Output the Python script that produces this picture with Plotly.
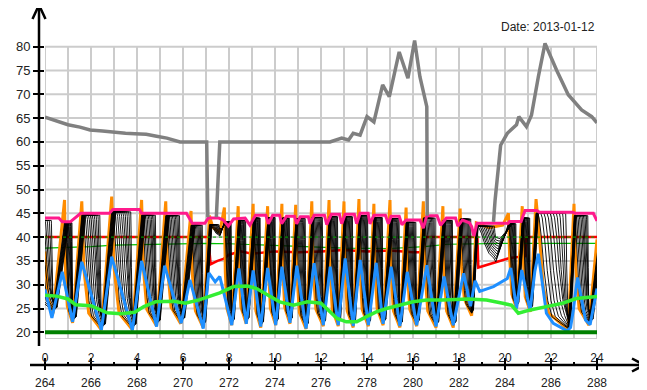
import plotly.graph_objects as go

# ---------------- data ----------------
hour_ticks = [0, 2, 4, 6, 8, 10, 12, 14, 16, 18, 20, 22, 24]
hour_labels = ["0", "2", "4", "6", "8", "10", "12", "14", "16", "18", "20", "22", "24"]
abs_hour_labels = ["264", "266", "268", "270", "272", "274", "276", "278", "280",
                   "282", "284", "286", "288"]
minor_hours = [1, 3, 5, 7, 9, 11, 13, 15, 17, 19, 21, 23]
grid_hours = list(range(0, 25))
y_ticks = [20, 25, 30, 35, 40, 45, 50, 55, 60, 65, 70, 75, 80]
date_text = "Date: 2013-01-12"

# None = hidden behind other lines in the picture
grey_t = [0, 0.36, 1.0, 1.52, 1.96, 2.5, 3.0, 3.5, 3.9, 4.4, 4.85, 5.3, 5.87, 7.03, 7.08,
          None, 7.45, 7.6, 12.39, 12.7, 12.9, 13.2, 13.4, 13.7, 14.0, 14.3, 14.68, 14.97, 15.4,
          15.78, 16.07, 16.3, 16.6, 16.62, None, 19.5, 19.57, 19.81, 20.1, 20.5, 20.6, 20.93,
          21.15, 21.45, 21.74, 22.24, 22.75, 23.33, 23.77, 24.0]
grey_v = [65.2, 64.6, 63.6, 63.1, 62.5, 62.3, 62.0, 61.8, 61.7, 61.6, 61.2, 60.8, 60.0, 60.0, 44.2,
          None, 44.2, 60.0, 60.0, 60.4, 60.8, 60.4, 61.8, 61.4, 65.3, 64.2, 72.0, 69.5, 78.9,
          73.4, 81.3, 73.7, 67.4, 44.5, None, 43.2, 47.8, 59.3, 61.8, 63.6, 65.3, 63.2,
          65.6, 73.7, 80.7, 75.1, 69.9, 66.7, 65.3, 64.0]

pink_t = [0, 0.6, 0.75, 1.1, 1.55, 2.8, 2.95, 4.1, 4.2, 6.15, 6.4, 6.95, 7.1, 7.55, 7.75, 7.97,
          8.2, 8.7, 8.91, 9.15, 9.6, 9.71, 9.9, 10.2, 10.29, 10.5, 10.85, 10.94, 11.1, 11.45,
          11.52, 11.7, 12.15, 12.25, 12.45, 12.8, 12.9, 13.05, 13.45, 13.55, 13.7, 14.05,
          14.13, 14.3, 14.8, 14.93, 15.05, 15.4, 15.52, 15.7, 16.3, 16.45, 16.6, 17.05, 17.2,
          17.45, 17.85, 17.95, 18.15, 18.45, 18.55, 18.65, 18.78, 20.14, 20.2, 20.7, 20.87,
          21.38, 21.5, 22.95, 23.05, 23.84, 24.0]
pink_v = [44.0, 44.0, 43.2, 43.2, 45.0, 45.0, 45.8, 45.8, 45.0, 45.0, 42.9, 42.9, 44.0, 44.0, 43.6, 42.3,
          43.8, 44.0, 42.5, 44.6, 44.6, 42.8, 44.6, 44.6, 42.8, 44.4, 44.4, 42.8, 44.3, 44.3,
          42.8, 44.6, 44.6, 42.6, 44.8, 44.8, 42.8, 44.8, 44.8, 42.8, 45.0, 45.0,
          42.8, 44.6, 44.6, 42.8, 44.4, 44.4, 42.6, 43.6, 43.6, 41.9, 44.5, 44.5, 42.5,
          44.0, 44.0, 42.3, 43.6, 43.0, 42.2, 40.2, 42.9, 42.9, 43.3, 43.3, 45.6,
          45.6, 45.2, 45.2, 45.0, 45.0, 43.4]

red_t = [0, 7.1, 7.2, 7.5, 7.75, 8.0, 8.5, 9.0, 10.0, 11.0, 12.0, 13.0, 14.0, 15.0, 16.0,
         16.4, 16.5, 18.8, 18.84, 20.2, 20.88, 20.92, 24.0]
red_v = [40.0, 40.0, 34.3, 35.0, 35.4, 36.3, 37.0, 36.5, 37.0, 36.8, 37.0, 37.3, 37.0, 37.2, 36.8,
         36.8, 40.0, 40.0, 33.6, 35.6, 36.0, 40.0, 40.0]

thin_green_t = [0, 1, 2, 3, 5, 7, 8, 10, 12, 13, 15, 16.5, 17.5, 20, 24]
thin_green_v = [37.7, 37.8, 38.0, 38.3, 38.5, 38.7, 38.6, 38.3, 38.0, 37.7, 37.6, 38.0, 38.5, 38.7, 38.7]

lime_t = [0, 0.5, 1.0, 1.33, 2.0, 2.7, 3.3, 3.9, 4.3, 4.8, 5.6, 6.1, 6.7, 7.3, 7.6, 8.2, 8.8,
          9.2, 9.6, 10.2, 10.8, 11.4, 12.0, 12.25, 12.7, 13.1, 13.55, 13.98, 14.4, 14.85,
          15.4, 16.0, 16.6, 17.3, 18.4, 19.2, 19.9, 20.28, 20.58, 21.1, 21.8, 22.5, 23.1, 24.0]
lime_v = [27.8, 27.6, 27.0, 25.8, 25.6, 24.1, 23.9, 24.2, 25.4, 26.4, 26.5, 26.1, 26.8, 27.8, 28.3, 29.6, 29.7,
          29.2, 28.1, 26.4, 25.7, 26.4, 26.1, 25.0, 22.9, 22.2, 22.2, 23.3, 24.3, 25.0,
          25.7, 26.4, 26.8, 26.8, 27.0, 26.8, 26.1, 25.7, 24.0, 24.7, 25.4, 26.1, 27.1, 27.5]

orange_t = [0, 0.12, 0.35,
            0.85, 0.89, 0.97, 1.2,
            1.6, 1.70, 1.90, 2.45,
            2.9, 3.01, 3.22, 3.8,
            4.2, 4.28, 4.43, 4.85,
            5.25, 5.33, 5.48, 5.9,
            6.35, 6.41, 6.54, 6.88,
            7.15, 7.3, 7.45, 7.6,
            7.8, 7.84, 7.91, 8.12,
            8.4, 8.44, 8.52, 8.75,
            9.05, 9.09, 9.17, 9.38,
            9.68, 9.72, 9.80, 10.03,
            10.3, 10.34, 10.42, 10.65,
            10.9, 10.95, 11.06, 11.35,
            11.6, 11.66, 11.78, 12.1,
            12.35, 12.4, 12.49, 12.75,
            13.0, 13.05, 13.14, 13.4,
            13.65, 13.7, 13.79, 14.06,
            14.3, 14.35, 14.44, 14.7,
            15.0, 15.05, 15.15, 15.43,
            15.7, 15.76, 15.86, 16.16,
            16.45, 16.52, 16.64, 17.0,
            17.3, 17.35, 17.46, 17.75,
            18.05, 18.11, 18.23, 18.55,
            18.75, 19.3, 19.9,
            20.15, 20.2, 20.3, 20.5,
            20.75, 20.8, 20.88, 21.1,
            21.35, 21.5, 21.65, 21.9, 22.75,
            23.0, 23.08, 23.22, 23.65,
            24.0]
orange_v = [37.0, 27.5, 24.0,
            47.8, 32.7, 25.5, 22.0,
            47.5, 32.8, 24.0, 20.5,
            48.5, 33.2, 24.0, 20.5,
            47.8, 33.2, 24.8, 21.3,
            47.5, 33.4, 25.3, 21.8,
            45.5, 32.0, 24.5, 21.0,
            44.5, 42.0, 41.5, 41.0,
            46.2, 32.6, 25.0, 21.5,
            46.5, 32.9, 25.3, 21.8,
            47.0, 32.8, 24.5, 21.0,
            46.5, 33.0, 25.0, 21.5,
            47.0, 33.2, 25.3, 21.8,
            46.8, 32.5, 24.2, 20.7,
            47.5, 33.0, 24.8, 21.3,
            47.8, 33.0, 24.8, 21.3,
            47.5, 32.9, 24.5, 21.0,
            48.0, 33.2, 24.8, 21.3,
            47.0, 33.0, 25.0, 21.5,
            47.8, 32.7, 24.5, 21.0,
            46.2, 32.5, 24.8, 21.3,
            47.5, 32.8, 24.5, 21.0,
            46.5, 32.5, 24.5, 21.0,
            46.0, 33.9, 27.0, 23.5,
            43.0, 42.0, 42.5,
            45.0, 36.0, 28.0, 25.0,
            46.5, 35.0, 27.5, 24.3,
            48.0, 40.0, 30.0, 24.0, 20.5,
            47.0, 33.5, 25.0, 21.5,
            39.5]

blue_t = [0, 0.3, 0.75, 1.2, 1.6, 2.45, 2.9, 3.8, 4.2, 4.85, 5.2, 5.92, 6.3, 6.88, 7.12, 7.4,
          7.6, 8.12, 8.43, 8.75, 9.05, 9.38, 9.68, 10.03, 10.3, 10.65, 10.95, 11.35, 11.7,
          12.1, 12.4, 12.75, 13.05, 13.4, 13.7, 14.06, 14.4, 14.7, 15.05, 15.43, 15.75,
          16.16, 16.6, 17.0, 17.35, 17.75, 18.2, 18.5, 18.7, 18.9, 19.5, 20.1, 20.25, 20.5,
          20.73, 21.09, 21.3, 21.45, 21.8, 22.1, 22.7, 22.85, 22.97, 23.15, 23.5, 23.7, 24.0]
blue_v = [29.0, 23.0, 32.7, 22.2, 34.8, 20.5, 35.9, 20.4, 35.0, 21.2, 34.0, 21.9, 31.0, 20.8, 32.5, 30.6,
          31.7, 21.5, 33.4, 21.8, 33.0, 21.2, 33.5, 21.5, 33.8, 22.0, 34.0, 20.8, 34.5,
          21.5, 33.8, 21.5, 35.5, 21.3, 35.2, 21.5, 34.6, 21.8, 33.8, 21.3, 32.7,
          21.5, 34.1, 21.2, 31.7, 21.5, 32.4, 25.5, 30.8, 28.6, 29.6, 31.3, 33.5, 25.0,
          33.1, 24.5, 32.9, 36.5, 24.0, 21.9, 20.3, 21.0, 24.7, 31.5, 22.6, 21.6, 29.2]

base_t = [0, 24]
base_v = [20, 20]
ref40_t = [0, 24]
ref40_v = [40, 40]

# storage layers: cycle table (plateau start, plateau level, bottom time, bottom level)
cyc_t_top = [-0.6, 0.85, 1.6, 2.9, 4.2, 5.25, 6.35, 7.15, 7.8, 8.4, 9.05, 9.68, 10.3, 10.9,
             11.6, 12.35, 13.0, 13.65, 14.3, 15.0, 15.7, 16.45, 17.3, 18.05, 18.75, 20.15,
             20.75, 21.35, 23.0]
cyc_top = [43.5, 43.0, 44.6, 45.3, 44.6, 44.5, 42.5, 42.6, 43.2, 43.5, 44.0, 44.1, 44.0, 43.9,
           44.1, 44.3, 44.3, 44.5, 44.1, 43.9, 43.1, 44.0, 43.5, 43.8, 42.3, 42.8,
           44.0, 45.0, 44.5]
cyc_t_min = [0.35, 1.2, 2.45, 3.8, 4.85, 5.9, 6.88, 7.6, 8.12, 8.75, 9.38, 10.03, 10.65, 11.35,
             12.1, 12.75, 13.4, 14.06, 14.7, 15.43, 16.16, 17.0, 17.75, 18.55, 19.6, 20.5,
             21.1, 22.75, 23.65]
cyc_bot = [24.5, 22.5, 21.0, 21.0, 21.8, 22.3, 21.5, 40.2, 22.0, 22.3, 21.5, 22.0, 22.3, 21.2,
           21.8, 21.8, 21.5, 21.8, 22.0, 21.5, 21.8, 21.5, 21.5, 24.0, 34.8, 25.5,
           24.8, 20.8, 22.0]
end_t_top = 24.2
end_top = 44.0
N_LAYERS = 10


def layer_path(k):
    f = k / (N_LAYERS - 1)
    xs, ys = [], []
    n = len(cyc_t_top)
    dr_next = 0.018
    for i in range(n):
        t0, top = cyc_t_top[i], cyc_top[i]
        t1, bot = cyc_t_min[i], cyc_bot[i]
        t_next = cyc_t_top[i + 1] if i + 1 < n else end_t_top
        rise_prev = t0 - cyc_t_min[i - 1] if i > 0 else 0.4
        dr_prev = min(0.02, 0.045 * rise_prev)
        dr_next = min(0.02, 0.045 * (t_next - t1))
        D, A = t1 - t0, top - bot
        soft = A < 10
        start = t0 + k * dr_prev
        s = max(t0 + (0.05 + 0.87 * f) * D, start + 0.005)
        R = t1 - s
        if soft:
            F = 0.9 * R
            b_k = bot + 0.65 * A * f
        else:
            F = min(0.9 * R, 0.45 * D)
            b_k = bot + 0.8 * f
        a_k = top - b_k
        xs += [start, s, s + 0.1 * F, s + 0.25 * F, s + 0.45 * F, s + 0.7 * F, s + F,
               t1 + k * dr_next]
        ys += [top, top, top - 0.04 * a_k, top - 0.2 * a_k, top - 0.5 * a_k, top - 0.76 * a_k,
               b_k + 0.1 * a_k, b_k]
    xs.append(end_t_top + k * dr_next)
    ys.append(end_top)
    return xs, ys


# ---------------- figure ----------------
# the page body adds an 8 px offset, so the figure is 8 px smaller and shifted
OFF = 8
W, H = 647 - OFF, 390 - OFF
ML, MR, MT, MB = 45 - OFF, 50, 20 - OFF, 25
PW, PH = W - ML - MR, H - MT - MB
FONT = "Arial, Liberation Sans, sans-serif"


def px(xp):
    return (xp - OFF - ML) / PW


def py(yp):
    return (H - MB - (yp - OFF)) / PH


Y_LO, Y_HI = 18.592, 85.609
GRID_BOTTOM = 18.592

fig = go.Figure()

fig.add_trace(go.Scatter(x=red_t, y=red_v, mode="lines", line=dict(color="#ff0000", width=2.5)))
fig.add_trace(go.Scatter(x=thin_green_t, y=thin_green_v, mode="lines",
                         line=dict(color="#00c000", width=1.2)))
fig.add_trace(go.Scatter(x=orange_t, y=orange_v, mode="lines",
                         line=dict(color="#ff8c00", width=3)))
for k in range(N_LAYERS):
    lx, ly = layer_path(k)
    fig.add_trace(go.Scatter(x=lx, y=ly, mode="lines", line=dict(color="#000000", width=0.9)))
fig.add_trace(go.Scatter(x=pink_t, y=pink_v, mode="lines", line=dict(color="#ff1a8c", width=3)))
fig.add_trace(go.Scatter(x=blue_t, y=blue_v, mode="lines", line=dict(color="#1e8fff", width=3)))
fig.add_trace(go.Scatter(x=lime_t, y=lime_v, mode="lines", line=dict(color="#33ee33", width=3.5)))
fig.add_trace(go.Scatter(x=base_t, y=base_v, mode="lines", xaxis="x2",
                         line=dict(color="#008000", width=4)))
fig.add_trace(go.Scatter(x=grey_t, y=grey_v, mode="lines", connectgaps=False,
                         line=dict(color="#808080", width=3.5)))
fig.add_trace(go.Scatter(x=ref40_t, y=ref40_v, mode="lines",
                         line=dict(color="#00b000", width=1, dash="dot")))

shapes = []
for h in grid_hours:
    shapes.append(dict(type="line", xref="x", yref="y", x0=h, x1=h, y0=GRID_BOTTOM, y1=y_ticks[-1],
                       line=dict(color="#cccccc", width=2), layer="below"))
for v in y_ticks + [GRID_BOTTOM]:
    shapes.append(dict(type="line", xref="x", yref="y", x0=grid_hours[0], x1=grid_hours[-1], y0=v, y1=v,
                       line=dict(color="#cccccc", width=2), layer="below"))

axis_line = dict(color="#000000", width=2.5)
# y axis with arrow
shapes.append(dict(type="line", xref="paper", yref="paper", x0=px(39), x1=px(39),
                   y0=py(346), y1=py(5), line=axis_line))
shapes.append(dict(type="path", xref="paper", yref="paper",
                   path=f"M {px(32.5)},{py(19)} L {px(39)},{py(5)} L {px(45.5)},{py(19)}",
                   line=axis_line))
# x axis with arrow
shapes.append(dict(type="line", xref="paper", yref="paper", x0=px(30), x1=px(644),
                   y0=py(365), y1=py(365), line=axis_line))
shapes.append(dict(type="path", xref="paper", yref="paper",
                   path=f"M {px(632)},{py(358.5)} L {px(644)},{py(365)} L {px(632)},{py(371.5)}",
                   line=axis_line))

xfont = dict(family=FONT, size=12, color="#222222")
yfont = dict(family=FONT, size=13, color="#222222")

fig.update_layout(
    width=W, height=H, template="none",
    margin=dict(l=ML, r=MR, t=MT, b=MB, pad=0),
    paper_bgcolor="white", plot_bgcolor="white",
    showlegend=False,
    shapes=shapes,
    xaxis=dict(range=[0, 24], domain=[0, 1], anchor="free", position=0,
               showgrid=False, zeroline=False, showline=False, automargin=False,
               tickmode="array", tickvals=hour_ticks, ticktext=abs_hour_labels,
               ticks="outside", ticklen=4, tickwidth=2, tickcolor="#000000",
               ticklabelstandoff=3, tickfont=xfont),
    xaxis2=dict(range=[0, 24], matches="x", overlaying="x", side="top", anchor="free", position=0,
                showgrid=False, zeroline=False, showline=False, automargin=False,
                tickmode="array", tickvals=hour_ticks, ticktext=hour_labels,
                ticks="outside", ticklen=7, tickwidth=2, tickcolor="#000000",
                ticklabelstandoff=-9, tickfont=xfont,
                minor=dict(tickvals=minor_hours, ticks="outside", ticklen=3, tickwidth=2,
                           tickcolor="#000000", showgrid=False)),
    yaxis=dict(range=[Y_LO, Y_HI], domain=[py(339), 1], anchor="x",
               showgrid=False, zeroline=False, showline=False, automargin=False,
               tickmode="array", tickvals=y_ticks,
               ticks="outside", ticklen=11, tickwidth=2, tickcolor="#000000",
               tickfont=yfont),
    annotations=[dict(text=date_text, xref="paper", yref="paper", x=1, y=py(27),
                      xanchor="right", yanchor="middle", showarrow=False,
                      font=dict(family=FONT, size=12, color="#222222"))],
)

fig.write_html("out.html")
